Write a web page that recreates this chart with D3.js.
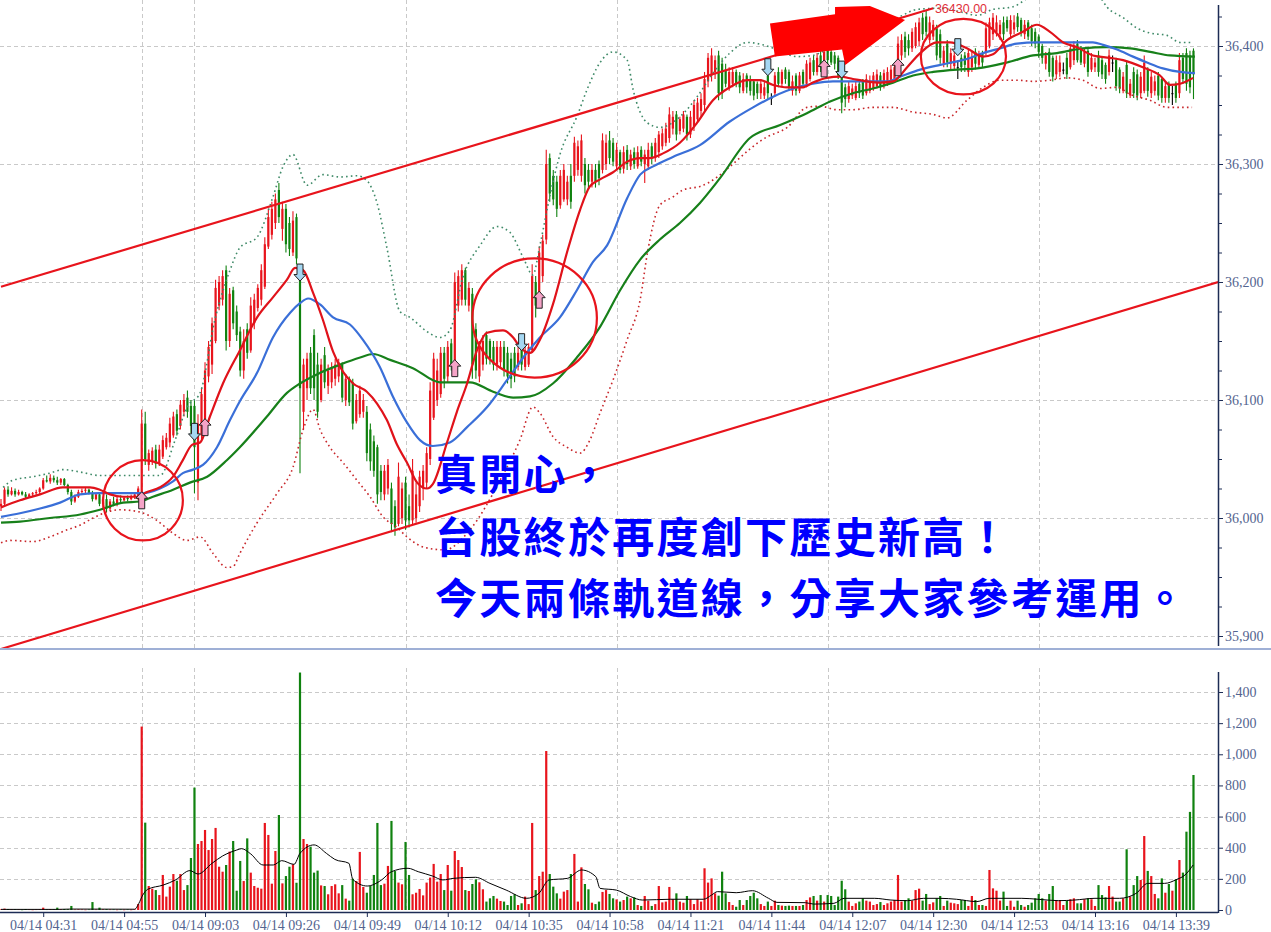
<!DOCTYPE html>
<html><head><meta charset="utf-8">
<script src="https://cdn.jsdelivr.net/npm/d3@7/dist/d3.min.js"></script>
<style>body{margin:0;background:#fff;}svg{display:block;}</style>
</head><body>
<svg id="c" width="1271" height="932"></svg>
<script>
// ---------- DATA ----------
const tickLabels = ["04/14 04:31","04/14 04:55","04/14 09:03","04/14 09:26","04/14 09:49","04/14 10:12","04/14 10:35","04/14 10:58","04/14 11:21","04/14 11:44","04/14 12:07","04/14 12:30","04/14 12:53","04/14 13:16","04/14 13:39"];
const tickIndex = [12,35,58,81,104,127,150,173,196,219,242,265,288,311,334];
const hourGridIndex = [40,55,115,175,235,295];
const priceTicks = [35900,36000,36100,36200,36300,36400];
const volumeTicks = [0,200,400,600,800,1000,1200,1400];

const opens = [
36010,36012,36024,36020,36023,36020,36022,36020,36018,36020,
36021,36022,36025,36032,36031,36034,36032,36030,36033,36028,
36022,36014,36018,36022,36023,36024,36021,36016,36020,36012,
36016,36008,36014,36012,36016,36015,36017,36016,36018,36016,
36022,36080,36045,36048,36058,36046,36052,36060,36064,36070,
36088,36078,36090,36102,36095,36095,36030,36070,36078,36120,
36130,36150,36180,36185,36210,36150,36193,36175,36158,36125,
36160,36142,36165,36178,36185,36196,36230,36240,36250,36278,
36245,36262,36250,36225,36255,36205,36090,36110,36140,36155,
36130,36100,36138,36112,36115,36118,36120,36130,36100,36118,
36115,36082,36088,36090,36090,36075,36065,36060,36040,36020,
36025,36025,36010,35995,36000,36030,36010,35998,36000,36010,
36025,36030,36050,36085,36100,36105,36140,36120,36148,36128,
36180,36185,36210,36180,36190,36160,36120,36130,36155,36150,
36145,36130,36132,36145,36140,36135,36140,36128,36145,36128,
36130,36142,36200,36185,36205,36236,36305,36290,36285,36265,
36270,36270,36290,36290,36295,36290,36300,36295,36285,36295,
36300,36295,36300,36320,36318,36298,36310,36296,36312,36298,
36310,36298,36312,36300,36298,36315,36305,36310,36315,36318,
36322,36330,36342,36328,36330,36340,36325,36332,36338,36345,
36350,36370,36375,36378,36392,36385,36380,36365,36368,36378,
36375,36362,36375,36372,36370,36368,36360,36358,36375,36356,
36360,36378,36368,36380,36378,36362,36375,36362,36378,36368,
36372,36388,36378,36392,36380,36398,36395,36392,36390,36378,
36365,36355,36358,36356,36368,36370,36360,36362,36364,36366,
36375,36366,36368,36370,36372,36380,36392,36408,36405,36398,
36400,36404,36424,36425,36405,36408,36415,36410,36385,36402,
36385,36383,36382,36390,36392,36378,36382,36395,36384,36394,
36395,36400,36410,36412,36410,36420,36422,36410,36414,36425,
36422,36410,36420,36415,36412,36408,36400,36385,36395,36390,
36376,36378,36380,36390,36382,36388,36402,36398,36385,36396,
36380,36382,36392,36388,36384,36378,36386,36388,36380,36362,
36384,36358,36378,36376,36360,36362,36380,36360,36362,36375,
36372,36356,36368,36360,36368,36360,36390,36394,36392,36396];

const highs = [
36016,36026,36027,36026,36025,36024,36023,36022,36021,36022,
36024,36026,36034,36036,36037,36036,36035,36034,36034,36029,
36024,36020,36024,36025,36026,36025,36023,36021,36022,36018,
36020,36016,36018,36018,36019,36018,36019,36020,36022,36027,
36092,36090,36058,36060,36062,36062,36070,36072,36085,36090,
36092,36100,36105,36108,36100,36100,36088,36110,36132,36150,
36170,36202,36205,36210,36214,36195,36196,36180,36162,36160,
36165,36187,36190,36198,36215,36238,36262,36268,36275,36284,
36268,36266,36255,36260,36258,36210,36135,36140,36145,36160,
36140,36135,36145,36130,36132,36135,36135,36132,36122,36120,
36118,36105,36112,36105,36095,36080,36070,36062,36045,36045,
36050,36030,36015,36047,36030,36035,36020,36050,36030,36040,
36045,36060,36115,36140,36135,36145,36145,36150,36152,36208,
36210,36215,36212,36200,36195,36165,36150,36155,36158,36152,
36150,36150,36150,36150,36145,36140,36145,36145,36148,36145,
36148,36215,36205,36230,36240,36312,36309,36295,36290,36295,
36300,36290,36300,36323,36320,36325,36305,36300,36300,36300,
36303,36326,36325,36328,36322,36318,36312,36315,36316,36312,
36314,36315,36315,36312,36318,36318,36322,36328,36330,36335,
36348,36345,36345,36340,36345,36342,36345,36354,36356,36360,
36378,36394,36398,36392,36396,36390,36385,36382,36382,36380,
36378,36377,36377,36375,36372,36370,36372,36370,36378,36360,
36378,36382,36380,36382,36380,36375,36377,36378,36380,36388,
36390,36392,36394,36396,36398,36400,36398,36395,36392,36380,
36368,36370,36368,36370,36370,36372,36376,36375,36378,36380,
36378,36380,36382,36384,36386,36408,36410,36412,36410,36415,
36420,36424,36428,36430,36425,36422,36418,36414,36400,36405,
36398,36396,36388,36393,36395,36398,36396,36398,36396,36396,
36420,36424,36428,36426,36422,36425,36425,36426,36426,36428,
36424,36422,36422,36418,36415,36410,36402,36395,36398,36392,
36392,36392,36386,36394,36402,36404,36405,36400,36398,36398,
36394,36390,36396,36390,36386,36397,36392,36390,36382,36378,
36388,36372,36382,36380,36378,36392,36382,36378,36375,36378,
36374,36370,36370,36366,36370,36394,36394,36398,36396,36398];

const lows = [
36006,36010,36018,36019,36018,36019,36019,36017,36017,36018,
36019,36020,36024,36030,36029,36030,36028,36028,36027,36020,
36011,36013,36017,36020,36021,36020,36014,36015,36010,36008,
36005,36006,36010,36010,36013,36014,36014,36015,36016,36015,
36018,36045,36040,36045,36042,36044,36050,36058,36060,36068,
36070,36075,36086,36085,36072,36021,36015,36066,36075,36115,
36122,36148,36176,36180,36142,36145,36160,36150,36120,36118,
36135,36140,36160,36175,36180,36194,36228,36236,36245,36250,
36235,36225,36222,36222,36215,36038,36075,36100,36105,36100,
36085,36098,36110,36105,36110,36112,36115,36098,36095,36095,
36075,36080,36085,36085,36048,36040,36035,36012,36015,36015,
36020,35988,35985,35993,35995,35990,35992,35995,35996,36005,
36015,36025,36045,36083,36095,36102,36110,36115,36125,36125,
36175,36180,36180,36175,36118,36118,36115,36125,36130,36130,
36125,36125,36128,36120,36114,36110,36115,36125,36125,36125,
36128,36140,36170,36180,36200,36232,36268,36265,36255,36262,
36268,36265,36262,36285,36290,36285,36275,36278,36280,36280,
36282,36292,36295,36300,36298,36295,36292,36292,36295,36295,
36296,36296,36298,36284,36295,36300,36302,36305,36312,36315,
36318,36325,36320,36325,36327,36320,36322,36328,36335,36340,
36345,36365,36370,36372,36354,36355,36365,36362,36365,36365,
36360,36360,36360,36358,36354,36355,36355,36355,36355,36350,
36357,36365,36365,36368,36362,36358,36358,36360,36365,36365,
36370,36375,36375,36378,36378,36385,36384,36380,36372,36343,
36348,36352,36355,36354,36356,36355,36358,36360,36362,36364,
36362,36364,36366,36368,36370,36376,36388,36390,36392,36395,
36398,36400,36405,36408,36402,36405,36388,36385,36382,36382,
36380,36380,36372,36378,36378,36374,36378,36380,36382,36382,
36392,36398,36405,36408,36405,36405,36412,36406,36410,36412,
36408,36406,36405,36400,36398,36390,36385,36380,36374,36370,
36372,36374,36376,36372,36380,36384,36386,36384,36382,36374,
36378,36378,36374,36372,36368,36375,36378,36362,36360,36360,
36356,36356,36356,36354,36356,36360,36357,36356,36358,36354,
36352,36352,36352,36350,36352,36356,36368,36362,36360,36355];

const closes = [
36012,36024,36020,36023,36020,36022,36020,36018,36020,36021,
36022,36025,36032,36031,36034,36032,36030,36033,36028,36022,
36014,36018,36022,36023,36024,36021,36016,36020,36012,36016,
36008,36014,36012,36016,36015,36017,36016,36018,36020,36025,
36080,36050,36055,36057,36046,36058,36066,36068,36080,36086,
36074,36096,36100,36090,36078,36060,36080,36105,36125,36145,
36165,36195,36200,36205,36150,36190,36165,36155,36125,36150,
36140,36180,36185,36195,36210,36232,36255,36262,36270,36255,
36262,36232,36228,36252,36220,36110,36130,36135,36110,36110,
36090,36130,36115,36125,36128,36130,36132,36102,36118,36098,
36080,36100,36108,36100,36055,36048,36040,36020,36022,36040,
36045,35995,35992,36035,36025,35998,35998,36040,36020,36035,
36040,36055,36108,36135,36125,36140,36118,36145,36130,36200,
36205,36210,36185,36195,36130,36125,36145,36150,36135,36135,
36130,36145,36145,36125,36120,36118,36120,36140,36130,36142,
36145,36205,36180,36225,36235,36300,36275,36270,36262,36290,
36295,36285,36268,36318,36315,36320,36282,36285,36295,36285,
36288,36320,36318,36305,36302,36312,36295,36310,36300,36308,
36300,36310,36302,36308,36312,36305,36318,36325,36326,36330,
36342,36340,36325,36338,36342,36325,36340,36350,36352,36355,
36372,36390,36392,36388,36360,36360,36368,36378,36378,36368,
36365,36372,36365,36362,36358,36360,36368,36365,36360,36356,
36375,36368,36378,36372,36365,36370,36362,36375,36368,36385,
36386,36378,36390,36382,36395,36388,36386,36385,36375,36352,
36355,36366,36364,36366,36360,36358,36372,36370,36375,36376,
36366,36377,36378,36380,36382,36402,36405,36395,36398,36412,
36416,36420,36410,36412,36420,36418,36392,36390,36396,36386,
36394,36392,36382,36382,36384,36394,36390,36385,36392,36386,
36415,36420,36424,36420,36418,36410,36415,36422,36420,36416,
36412,36418,36408,36404,36402,36395,36390,36392,36378,36374,
36388,36386,36380,36376,36398,36400,36388,36386,36395,36378,
36390,36386,36378,36376,36372,36392,36386,36366,36364,36374,
36360,36368,36360,36358,36374,36386,36362,36374,36370,36358,
36356,36366,36356,36360,36356,36388,36372,36368,36365,36376];

const volumes = [
4,9,6,3,4,3,2,6,3,2, 3,4,15,3,5,4,15,4,6,5, 26,3,4,3,2,3,51,3,15,4, 5,3,3,2,3,2,3,2,4,38,
1178,561,154,137,128,96,225,86,150,231,
188,231,128,160,334,786,424,443,514,385,
456,527,278,246,289,375,443,124,315,186,
460,240,154,143,137,559,482,169,379,610,
171,218,278,293,175,1525,456,424,407,240,
253,158,154,101,154,165,107,160,73,60,
201,186,373,148,111,154,225,559,160,169,
283,572,250,176,165,437,225,101,111,135,
94,176,208,296,182,231,128,289,124,379,
321,276,128,122,167,197,178,133,54,75,
90,73,58,54,32,90,101,32,43,86,
38,559,128,218,246,1021,231,150,107,73,
118,128,231,360,54,274,167,133,47,38,
54,116,128,103,75,68,54,64,86,75,
81,32,26,90,60,26,38,154,49,54,
148,69,107,54,47,90,69,38,69,54,
268,176,203,107,92,246,107,51,32,21,
64,32,64,90,111,75,38,26,54,26,
60,32,28,26,28,26,26,26,32,64,
81,90,60,96,54,96,90,32,86,188,
133,54,26,43,54,75,60,54,32,38,
51,32,43,54,64,225,54,64,75,60,
128,137,60,103,38,49,75,90,26,60,
47,43,38,64,64,26,90,64,32,32,
26,257,139,124,60,118,26,60,21,60,
32,21,32,47,75,103,75,60,103,154,
60,64,32,60,69,75,43,43,69,75,
69,26,160,96,81,154,86,54,54,75,
390,86,160,218,193,475,251,218,103,75,
203,111,167,124,197,321,240,503,630,867];

// moving averages: [bar index, value]
const maShort = [[0,36009],[5.4,36015],[11.1,36020],[17.6,36026],[25.3,36026],[28.1,36024],[31,36020],[34.7,36018],[38.7,36018],[41.5,36022],[45.2,36026],[48.9,36035],[51.7,36049],[54.3,36062],[56.6,36064],[59.4,36086],[63.1,36114],[67.9,36142],[72.8,36170],[77.3,36187],[81.3,36202],[83.6,36212],[85.9,36210],[88.7,36191],[91.5,36168],[94.4,36141],[97.2,36124],[100.1,36114],[104,36107],[106.9,36097],[109.7,36083],[112.6,36062],[115.4,36047],[118.3,36030],[121.1,36025],[122.8,36029],[126.8,36064],[129.6,36090],[132.5,36114],[135.3,36142],[138.2,36157],[142.7,36159],[145.6,36153],[147.5,36145],[150.4,36140],[153.2,36151],[156.9,36181],[160.9,36225],[164.6,36261],[167.4,36281],[170.3,36287],[174,36293],[178,36302],[181.7,36305],[184.5,36305],[188.2,36309],[193,36318],[197.9,36335],[202.4,36354],[207.2,36365],[212.1,36371],[215.8,36371],[219.5,36367],[223.5,36365],[228,36365],[230.8,36369],[234.8,36373],[238.5,36374],[242.2,36372],[246.2,36370],[249.9,36369],[253.6,36370],[257.6,36382],[261.3,36394],[266.1,36403],[269.8,36403],[274.6,36398],[279.2,36391],[282,36393],[286,36405],[290.5,36412],[294.5,36418],[298.2,36412],[302,36403],[305.9,36399],[310.4,36392],[315.3,36390],[319,36388],[324.6,36382],[329.5,36375],[332.3,36367],[335.2,36368],[338.9,36373]];
const maMid = [[0,36001],[5.4,36004],[11.1,36008],[16.8,36013],[22.5,36020],[28.1,36021],[35.8,36021],[40.4,36021],[45.2,36025],[48.9,36031],[51.7,36038],[54.6,36041],[57.4,36045],[61.4,36060],[65.1,36083],[67.9,36099],[72.8,36123],[77.3,36153],[82.2,36174],[85,36182],[87.3,36186],[90.7,36181],[94.4,36170],[99.2,36164],[102.9,36151],[107.7,36128],[111.4,36103],[115.4,36081],[119.1,36066],[122.8,36061],[127.6,36064],[132.5,36077],[138.2,36094],[143.9,36117],[149.5,36140],[153.2,36153],[158.9,36170],[163.7,36193],[168.3,36217],[172.3,36231],[178,36271],[181.7,36291],[185.4,36298],[191,36306],[198.7,36316],[207.2,36336],[213.8,36348],[219.5,36357],[226.3,36365],[230.8,36368],[236.5,36370],[242.2,36370],[247.9,36370],[251.9,36370],[255.6,36374],[261.3,36380],[267,36384],[271.8,36387],[274.6,36389],[279.2,36394],[284,36398],[288.8,36402],[294.5,36403],[300.2,36403],[305.9,36403],[310.4,36403],[313.3,36401],[317.3,36397],[321.8,36391],[325.8,36386],[330.3,36381],[335.2,36378],[339.4,36377]];
const maLong = [[0,35996],[5.4,35997],[13.9,36000],[22.5,36003],[28.1,36007],[34.7,36013],[39.5,36014],[43.2,36018],[48.9,36024],[53.7,36030],[58.6,36035],[64.2,36049],[67.9,36060],[75.6,36086],[81.3,36106],[85,36114],[90.7,36123],[96.4,36130],[102.1,36136],[105.8,36139],[110.6,36134],[117.1,36127],[124.8,36115],[133.3,36115],[139.9,36107],[145.6,36102],[150.4,36103],[156.9,36114],[163.7,36136],[170.3,36162],[176,36193],[181.7,36219],[187.3,36236],[193,36250],[198.7,36267],[204.4,36288],[212.9,36322],[221.5,36333],[229.1,36343],[235.7,36353],[242.2,36360],[247.9,36364],[253.6,36369],[259.3,36375],[265,36378],[271.8,36380],[277.5,36381],[286,36386],[293.4,36392],[300.2,36394],[307.6,36398],[314.4,36399],[321,36398],[326.7,36395],[332.3,36392],[339.4,36391]];
const bandUpper = [[0.6,36026],[3.4,36032],[9.1,36035],[13.9,36038],[17.6,36041],[22.5,36039],[28.1,36036],[33.8,36036],[39.5,36036],[45.2,36036],[49.5,36066],[52.9,36094],[56.6,36106],[60.8,36168],[65.1,36210],[67.9,36229],[72.8,36238],[77.3,36272],[80.2,36298],[83,36308],[87,36282],[91.5,36291],[96.4,36289],[101.2,36290],[104,36286],[106.9,36267],[109.7,36229],[113.4,36175],[116.3,36170],[121.1,36158],[124.8,36153],[127.6,36159],[131.3,36204],[136.2,36231],[141,36247],[144.7,36242],[148.4,36221],[151.2,36206],[153.2,36231],[156.1,36274],[159,36309],[163.7,36340],[166.6,36363],[170.3,36386],[174,36395],[178,36388],[179.7,36363],[183.7,36335],[187.3,36331],[193,36340],[197.9,36357],[202.4,36377],[207.2,36394],[212.1,36403],[216.6,36401],[220.6,36397],[226.3,36391],[230.8,36392],[234.8,36397],[244.2,36409],[255.6,36425],[260.4,36431],[266.9,36432],[272.6,36429],[277.5,36426],[282,36431],[287.4,36433],[295.4,36446],[305.3,36448],[312.4,36441],[314.4,36433],[319,36424],[323,36415],[326.6,36411],[331.5,36409],[335.2,36403],[338.6,36403]];
const bandLower = [[0,35979],[2.6,35981],[9.1,35980],[13.9,35984],[18.8,35990],[22.5,35994],[26.2,36000],[30.1,36005],[33.8,36007],[39.5,36005],[44.3,35998],[48.9,35987],[52.9,35981],[56.6,35984],[60.3,35970],[64.2,35958],[66,35959],[67.9,35970],[72.8,35996],[78.5,36021],[83,36043],[85.9,36075],[88.7,36092],[90.7,36075],[93.5,36060],[97.2,36047],[101.2,36032],[104.9,36018],[108.6,36001],[112.6,35992],[115.4,35984],[120.5,35975],[126.2,35973],[133.3,35990],[141.9,36032],[147.5,36066],[151.2,36094],[153.2,36089],[156.9,36069],[160.9,36060],[164.6,36055],[167.4,36066],[170.3,36089],[174,36117],[178,36151],[181.7,36185],[183.9,36227],[187.3,36265],[191,36272],[193.9,36278],[198.7,36281],[217.8,36323],[223.5,36331],[229.1,36348],[232.8,36349],[237.7,36346],[242.2,36346],[247.9,36348],[253.6,36348],[259.3,36344],[265,36342],[268.9,36339],[274.6,36354],[279.2,36365],[284,36371],[288.8,36371],[293.4,36370],[298.2,36371],[303,36373],[307.6,36371],[312.4,36364],[317.3,36365],[321,36359],[326.6,36354],[331.5,36348],[336,36348],[338.6,36348]];
const volumeMA = [[0,4],[16,4],[20,6],[38,5],[39.2,43],[40.3,96],[41.7,133],[46.1,160],[49.6,193],[53.7,253],[56,231],[60,300],[63,347],[67,385],[68.4,394],[71,360],[74.5,289],[77.4,289],[79.8,317],[83.3,293],[85,364],[89,418],[92.5,364],[94.9,325],[98.9,300],[100,197],[104.1,154],[108.2,193],[111,246],[115.7,268],[118.6,246],[122.7,218],[125.6,193],[128.5,203],[134.9,210],[139,171],[143.6,128],[149.4,75],[152.9,107],[155.8,193],[161,203],[165,257],[169.1,214],[170.3,139],[174.9,128],[179,86],[182.3,64],[190.4,69],[199.7,69],[202,96],[203.7,118],[209,111],[213.6,124],[218.2,75],[220.6,49],[228.7,47],[231,38],[236.8,43],[239.7,75],[248.4,75],[253,64],[257.7,60],[262.3,75],[267,75],[271.6,69],[277.4,54],[280.9,75],[290.2,75],[294.8,69],[300.6,60],[305.2,64],[311,75],[318,75],[322.7,107],[326,171],[330.8,171],[334.3,197],[336.6,225],[338.9,289]];

// annotations (bar index, price)
const channelUpper = [[0,36196],[265,36432]];
const channelLower = [[0,35889],[346,36200]];
const circleBounds = [[[29,51.7],[35981,36049]],[[134,169.4],[36119,36220]],[[261.5,285.7],[36359,36423]]];
const upMarks = [[40,36015],[58,36077],[129,36127],[153,36185],[234,36381],[255,36382]];
const downMarks = [[55,36073],[85,36208],[148,36149],[218,36382],[239,36380],[272,36399]];
const bigArrow = [[218.6,36419],[237.1,36427],[237.1,36433],[247,36434],[257,36422],[240,36384],[239.1,36397],[220,36391]];
const highLabel = {idx:265.5, price:36428, text:"36430.00"};
const noteLines = ["真開心，","台股終於再度創下歷史新高！","今天兩條軌道線，分享大家參考運用。"];

// ---------- LAYOUT ----------
const svg = d3.select("#c");
const axisX = 1218;
const x = d3.scaleLinear().domain([0,340]).range([1,1197]);
const yP = d3.scaleLinear().domain([35900,36400]).range([636,46]);
const yV = d3.scaleLinear().domain([0,1400]).range([910,692]);
const RED = "#e8141c", GREEN = "#10820f";
const labelFont = "'Liberation Serif', 'DejaVu Serif', serif";
const labelColor = "#53648f";
const axisColor = "#1d2c55";

const defs = svg.append("defs");
defs.append("clipPath").attr("id","cp").append("rect").attr("x",0).attr("y",0).attr("width",axisX).attr("height",648);
defs.append("clipPath").attr("id","cv").append("rect").attr("x",0).attr("y",652).attr("width",axisX).attr("height",260);

svg.append("rect").attr("width",1271).attr("height",932).attr("fill","#fff");

// grid
const grid = svg.append("g").attr("stroke","#c9c9c9").attr("stroke-dasharray","4,3").attr("stroke-width",1);
priceTicks.forEach(t=>grid.append("line").attr("x1",0).attr("x2",axisX).attr("y1",Math.round(yP(t))+0.5).attr("y2",Math.round(yP(t))+0.5));
volumeTicks.slice(1).forEach(t=>grid.append("line").attr("x1",0).attr("x2",axisX).attr("y1",Math.round(yV(t))+0.5).attr("y2",Math.round(yV(t))+0.5));
hourGridIndex.forEach(i=>{
  const xx = Math.round(x(i))+0.5;
  grid.append("line").attr("x1",xx).attr("x2",xx).attr("y1",0).attr("y2",648);
  grid.append("line").attr("x1",xx).attr("x2",xx).attr("y1",668).attr("y2",910);
});

// candles
const pricePanel = svg.append("g").attr("clip-path","url(#cp)");
const idx = d3.range(closes.length);
const colorOf = i => closes[i] > opens[i] ? RED : (closes[i] < opens[i] ? GREEN : "#000");
pricePanel.append("g").selectAll("line").data(idx).join("line")
  .attr("x1",i=>x(i)).attr("x2",i=>x(i))
  .attr("y1",i=>yP(highs[i])).attr("y2",i=>yP(lows[i]))
  .attr("stroke",colorOf).attr("stroke-width",1.1);
pricePanel.append("g").selectAll("rect").data(idx).join("rect")
  .attr("x",i=>x(i)-1.1).attr("width",2.2)
  .attr("y",i=>yP(Math.max(opens[i],closes[i])))
  .attr("height",i=>Math.max(1,Math.abs(yP(opens[i])-yP(closes[i]))))
  .attr("fill",colorOf);

// bands
const lineGen = d3.line().x(d=>x(d[0])).y(d=>yP(d[1])).curve(d3.curveMonotoneX);
pricePanel.append("path").attr("d",lineGen(bandUpper)).attr("fill","none").attr("stroke","#3f8a68").attr("stroke-width",1.6).attr("stroke-dasharray","1.6,3.2");
pricePanel.append("path").attr("d",lineGen(bandLower)).attr("fill","none").attr("stroke","#c8262a").attr("stroke-width",1.6).attr("stroke-dasharray","1.6,3.2");
// MAs
pricePanel.append("path").attr("d",lineGen(maLong)).attr("fill","none").attr("stroke","#17801a").attr("stroke-width",2.2);
pricePanel.append("path").attr("d",lineGen(maMid)).attr("fill","none").attr("stroke","#3a6fd8").attr("stroke-width",2.2);
pricePanel.append("path").attr("d",lineGen(maShort)).attr("fill","none").attr("stroke","#e0121a").attr("stroke-width",2.2);

// channel lines
[channelUpper, channelLower].forEach(c=>{
  pricePanel.append("line").attr("x1",x(c[0][0])).attr("y1",yP(c[0][1])).attr("x2",x(c[1][0])).attr("y2",yP(c[1][1]))
    .attr("stroke",RED).attr("stroke-width",2.2);
});
// circles
circleBounds.forEach(b=>{
  const cx=(x(b[0][0])+x(b[0][1]))/2, cy=(yP(b[1][0])+yP(b[1][1]))/2;
  const rx=Math.abs(x(b[0][1])-x(b[0][0]))/2, ry=Math.abs(yP(b[1][1])-yP(b[1][0]))/2;
  pricePanel.append("ellipse").attr("cx",cx).attr("cy",cy).attr("rx",rx).attr("ry",ry)
    .attr("fill","none").attr("stroke",RED).attr("stroke-width",2.2);
});
// signal arrows
const upPath = "M0,-8.5 L6,-2 L3,-2 L3,8.5 L-3,8.5 L-3,-2 L-6,-2 Z";
const downPath = "M0,8.5 L6,2 L3,2 L3,-8.5 L-3,-8.5 L-3,2 L-6,2 Z";
upMarks.forEach(m=>pricePanel.append("path").attr("d",upPath).attr("transform",`translate(${x(m[0])},${yP(m[1])})`)
  .attr("fill","#f5a3c7").attr("stroke","#222").attr("stroke-width",1));
downMarks.forEach(m=>pricePanel.append("path").attr("d",downPath).attr("transform",`translate(${x(m[0])},${yP(m[1])})`)
  .attr("fill","#a5d7f2").attr("stroke","#222").attr("stroke-width",1));
// big arrow
pricePanel.append("polygon").attr("points",bigArrow.map(p=>x(p[0])+","+yP(p[1])).join(" ")).attr("fill","#ff0000");
// high label
svg.append("text").attr("x",x(highLabel.idx)).attr("y",yP(highLabel.price)).text(highLabel.text)
  .attr("fill","#e0303a").attr("font-family","'Liberation Sans', Arial, sans-serif").attr("font-size",12.5);

// volume
const volPanel = svg.append("g").attr("clip-path","url(#cv)");
volPanel.selectAll("rect").data(idx).join("rect")
  .attr("x",i=>x(i)-1.1).attr("width",2.2)
  .attr("y",i=>yV(volumes[i])).attr("height",i=>Math.max(0.5,yV(0)-yV(volumes[i])))
  .attr("fill",i=>closes[i] >= opens[i] ? RED : GREEN);
const vline = d3.line().x(d=>x(d[0])).y(d=>yV(d[1])).curve(d3.curveMonotoneX);
volPanel.append("path").attr("d",vline(volumeMA)).attr("fill","none").attr("stroke","#000").attr("stroke-width",1);

// panel separator
svg.append("line").attr("x1",0).attr("x2",1271).attr("y1",649).attr("y2",649).attr("stroke","#9fb0d6").attr("stroke-width",2);

// axes
function styleAxis(g){
  g.select(".domain").remove();
  g.selectAll(".tick line").attr("stroke",axisColor);
  g.selectAll(".tick text").attr("fill",labelColor).attr("font-family",labelFont).attr("font-size",14);
}
svg.append("line").attr("x1",axisX+0.5).attr("x2",axisX+0.5).attr("y1",5).attr("y2",646).attr("stroke",axisColor).attr("stroke-width",1.5);
svg.append("line").attr("x1",axisX+0.5).attr("x2",axisX+0.5).attr("y1",672).attr("y2",913).attr("stroke",axisColor).attr("stroke-width",1.5);
svg.append("line").attr("x1",0).attr("x2",axisX).attr("y1",912.5).attr("y2",912.5).attr("stroke",axisColor).attr("stroke-width",1.5);

svg.append("g").attr("transform",`translate(${axisX},0)`)
  .call(d3.axisRight(yP).tickValues(d3.range(35900,36440,25)).tickSize(4).tickFormat(""))
  .call(styleAxis);
svg.append("g").attr("transform",`translate(${axisX},0)`)
  .call(d3.axisRight(yP).tickValues(priceTicks).tickSize(5).tickPadding(2).tickFormat(d3.format(",")))
  .call(styleAxis);
svg.append("g").attr("transform",`translate(${axisX},0)`)
  .call(d3.axisRight(yV).tickValues(volumeTicks).tickSize(5).tickPadding(2).tickFormat(d3.format(",")))
  .call(styleAxis);
svg.append("g").attr("transform",`translate(0,912)`)
  .call(d3.axisBottom(x).tickValues(tickIndex).tickSize(5).tickPadding(3).tickFormat((d,i)=>tickLabels[i]))
  .call(styleAxis);

// note text
const note = svg.append("g").attr("font-family","'Noto Sans CJK TC','Noto Sans CJK SC',sans-serif")
  .attr("font-weight",700).attr("font-size",42).attr("letter-spacing","2.3px").attr("fill","#0000ff");
const baselines = [490,553,614];
noteLines.forEach((t,k)=>note.append("text").attr("x",435).attr("y",baselines[k]).text(t));
</script>
</body></html>
